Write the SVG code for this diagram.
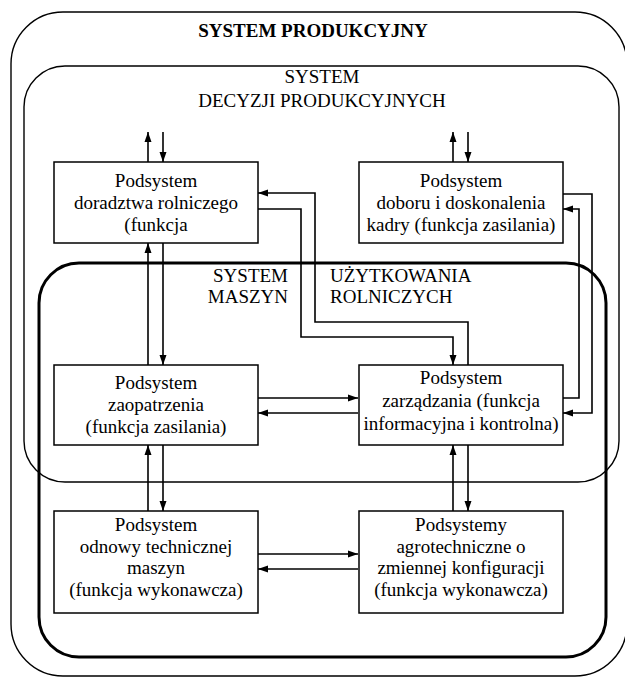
<svg xmlns="http://www.w3.org/2000/svg" width="625" height="680" viewBox="0 0 625 680">
  <style>
    text { font-family: "Liberation Serif", "Times New Roman", serif; fill: #000; }
    .lbl { font-size: 19px; text-anchor: middle; }
    .sys { font-size: 19px; text-anchor: middle; }
    .title { font-size: 19px; font-weight: bold; text-anchor: middle; }
    .frame { fill: none; stroke: #000; stroke-width: 1.4; }
    .thick { fill: none; stroke: #000; stroke-width: 3; }
    .box rect { fill: #fff; stroke: #000; stroke-width: 1.5; }
    .conn path { fill: none; stroke: #000; stroke-width: 1.6; marker-end: url(#arr); }
  </style>
  <defs>
    <marker id="arr" markerUnits="userSpaceOnUse" markerWidth="11" markerHeight="8" refX="10" refY="4" orient="auto">
      <path d="M0,0.5 L10,4 L0,7.5 z" fill="#000"/>
    </marker>
  </defs>
  <rect width="625" height="680" fill="#fff"/>

  <!-- enclosing systems -->
  <g id="system-produkcyjny">
    <rect class="frame" x="11" y="12" width="616" height="664" rx="52" ry="52"/>
    <text class="title" x="313" y="37">SYSTEM PRODUKCYJNY</text>
  </g>
  <g id="system-decyzji">
    <rect class="frame" x="24" y="66" width="595" height="416" rx="41" ry="41"/>
    <text class="sys" x="322" y="83">SYSTEM</text>
    <text class="sys" x="322" y="107">DECYZJI PRODUKCYJNYCH</text>
  </g>
  <g id="system-maszyn">
    <rect class="thick" x="39" y="263" width="567" height="394" rx="40" ry="40"/>
    <text class="lbl" x="288" y="282" style="text-anchor:end">SYSTEM</text>
    <text class="lbl" x="288" y="303" style="text-anchor:end">MASZYN</text>
    <text class="lbl" x="330" y="282" style="text-anchor:start">UŻYTKOWANIA</text>
    <text class="lbl" x="330" y="303" style="text-anchor:start">ROLNICZYCH</text>
  </g>

  <!-- connectors -->
  <g id="connectors" class="conn">
    <!-- external links -->
    <path d="M148,162 V132"/>
    <path d="M163,132 V162"/>
    <path d="M453,162 V132"/>
    <path d="M468,132 V162"/>
    <!-- doradztwo <-> zaopatrzenie -->
    <path d="M148,365 V243"/>
    <path d="M163,243 V365"/>
    <!-- zaopatrzenie <-> odnowa -->
    <path d="M148,511 V445"/>
    <path d="M163,445 V511"/>
    <!-- zarządzanie <-> agrotechnika -->
    <path d="M453,511 V445"/>
    <path d="M468,445 V511"/>
    <!-- zaopatrzenie <-> zarządzanie -->
    <path d="M258,398 H358"/>
    <path d="M358,413 H258"/>
    <!-- odnowa <-> agrotechnika -->
    <path d="M258,554 H358"/>
    <path d="M358,569 H258"/>
    <!-- doradztwo <-> zarządzanie -->
    <path d="M468,365 V322 H315 V193 H258"/>
    <path d="M258,209 H301 V337 H453 V365"/>
    <!-- kadry <-> zarządzanie -->
    <path d="M563,398 H579 V209 H563"/>
    <path d="M563,194 H592 V413 H563"/>
  </g>

  <!-- subsystems -->
  <g id="doradztwo" class="box">
    <rect x="54" y="162" width="204" height="81"/>
    <text class="lbl" x="156" y="187">Podsystem</text>
    <text class="lbl" x="156" y="209">doradztwa rolniczego</text>
    <text class="lbl" x="156" y="231">(funkcja</text>
  </g>
  <g id="kadry" class="box">
    <rect x="359" y="162" width="204" height="81"/>
    <text class="lbl" x="461" y="187">Podsystem</text>
    <text class="lbl" x="461" y="209">doboru i doskonalenia</text>
    <text class="lbl" x="461" y="231">kadry (funkcja zasilania)</text>
  </g>
  <g id="zaopatrzenie" class="box">
    <rect x="54" y="365" width="204" height="80"/>
    <text class="lbl" x="156" y="389">Podsystem</text>
    <text class="lbl" x="156" y="411">zaopatrzenia</text>
    <text class="lbl" x="156" y="433">(funkcja zasilania)</text>
  </g>
  <g id="zarzadzanie" class="box">
    <rect x="359" y="365" width="204" height="80"/>
    <text class="lbl" x="461" y="384">Podsystem</text>
    <text class="lbl" x="461" y="407">zarządzania (funkcja</text>
    <text class="lbl" x="461" y="430">informacyjna i kontrolna)</text>
  </g>
  <g id="odnowa" class="box">
    <rect x="54" y="511" width="204" height="102"/>
    <text class="lbl" x="156" y="531">Podsystem</text>
    <text class="lbl" x="156" y="553">odnowy technicznej</text>
    <text class="lbl" x="156" y="574">maszyn</text>
    <text class="lbl" x="156" y="596">(funkcja wykonawcza)</text>
  </g>
  <g id="agrotechnika" class="box">
    <rect x="359" y="511" width="204" height="102"/>
    <text class="lbl" x="461" y="531">Podsystemy</text>
    <text class="lbl" x="461" y="553">agrotechniczne o</text>
    <text class="lbl" x="461" y="574">zmiennej konfiguracji</text>
    <text class="lbl" x="461" y="596">(funkcja wykonawcza)</text>
  </g>
</svg>
